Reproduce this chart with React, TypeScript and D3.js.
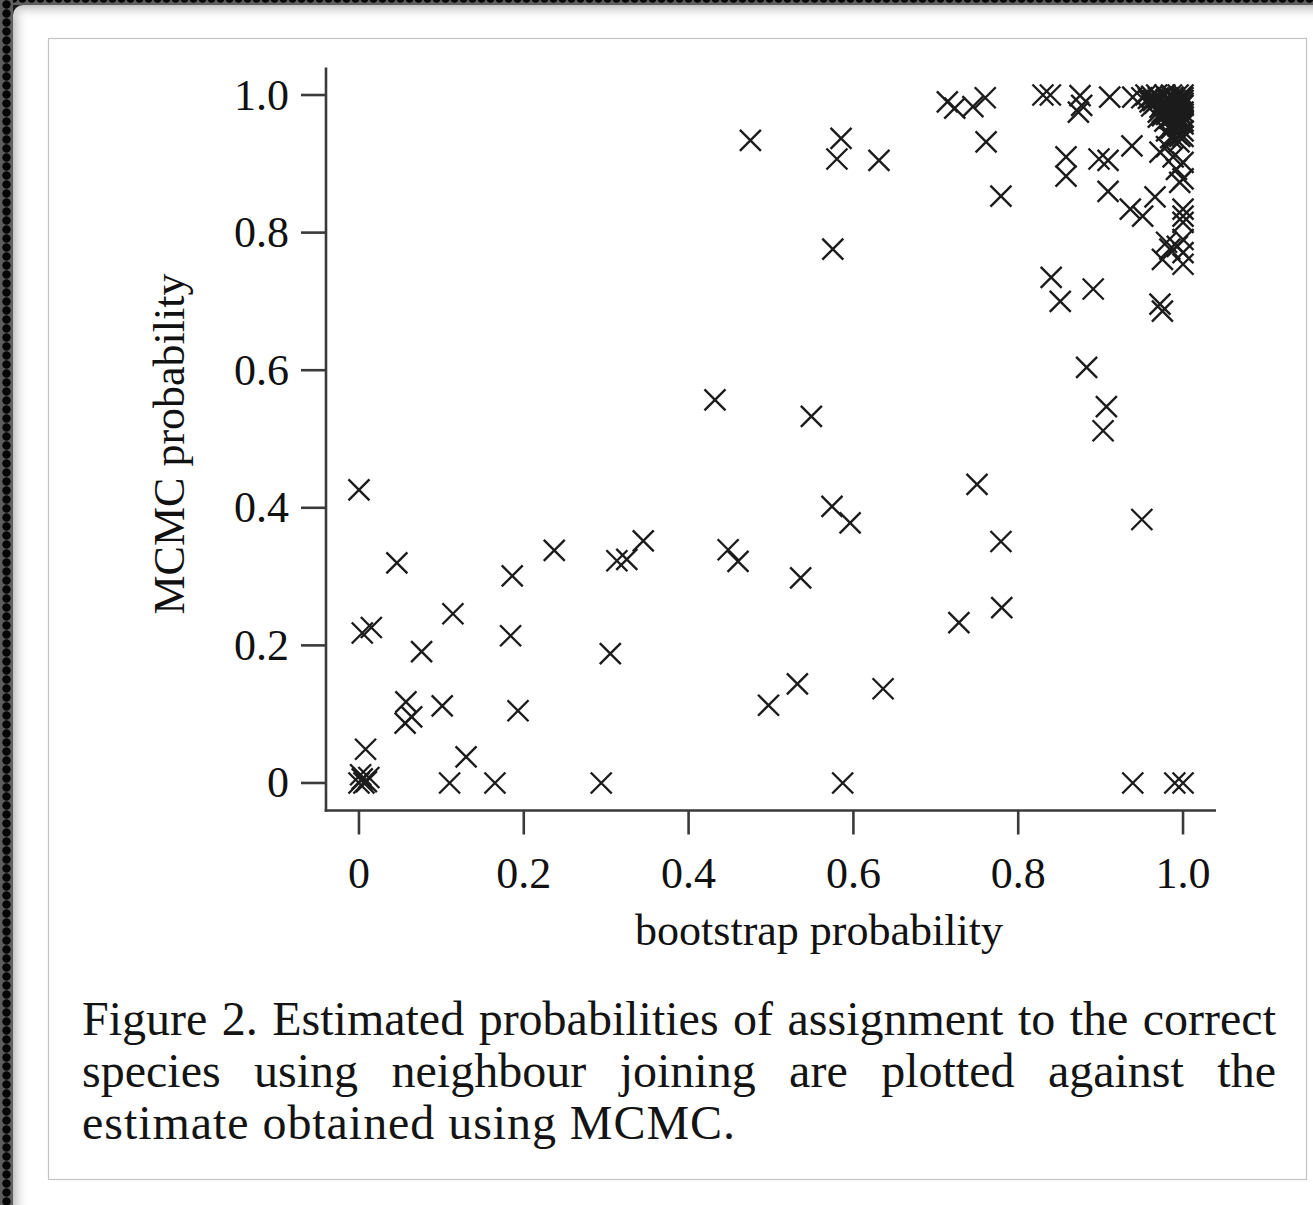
import React, { useMemo } from "react";
import * as d3 from "d3";

// Bootstrap (neighbour joining) probability for each assignment
const bootstrap = [
  0.0, 0.046, 0.004, 0.015, 0.076, 0.114, 0.057, 0.064, 0.056, 0.101,
  0.008, 0.0, 0.004, 0.009, 0.002, 0.012, 0.006, 0.11, 0.13, 0.165,
  0.186, 0.184, 0.193, 0.237, 0.294, 0.305, 0.313, 0.325, 0.345, 0.432,
  0.549, 0.75, 0.574, 0.596, 0.448, 0.46, 0.536, 0.779, 0.95, 0.728,
  0.78, 0.907, 0.903, 0.883, 0.497, 0.532, 0.636, 0.587, 0.939, 0.99,
  1.0,
  0.475, 0.585, 0.58, 0.631, 0.575, 0.714, 0.723, 0.745, 0.76, 0.761,
  0.779, 0.83, 0.839, 0.875, 0.873, 0.877, 0.911, 0.939, 0.858, 0.858,
  0.898, 0.909, 0.938, 0.909, 0.936, 0.951, 0.966, 0.84, 0.851, 0.891,
  0.972, 0.975,
  0.972, 0.996, 0.98, 0.988, 1.0, 0.992, 1.0, 0.996, 1.0, 1.0,
  1.0, 0.98, 0.993, 1.0, 0.975, 1.0, 0.984, 1.0,
  0.955, 0.962, 0.968, 0.972, 0.978, 0.982, 0.986, 0.99, 0.994, 0.998,
  1.0, 1.0, 1.0, 0.996, 0.99, 0.984, 0.978, 0.972, 0.966, 0.96,
  0.975, 0.982, 0.988, 0.994, 1.0, 1.0, 0.996, 0.99, 0.984, 0.978,
  0.97, 1.0, 0.994, 0.986, 1.0, 0.992, 0.98, 1.0, 0.995, 0.985,
  0.958, 0.964, 0.97, 0.976, 0.98, 0.988, 0.992, 0.996, 1.0, 1.0,
  0.997, 0.993, 0.987, 0.981, 0.975, 0.969, 0.98, 0.986, 0.992, 0.998,
  1.0, 0.995, 0.988, 0.975, 0.97, 0.95, 0.962,
];

// MCMC probability for the same assignments
const mcmc = [
  0.426, 0.32, 0.218, 0.226, 0.191, 0.246, 0.118, 0.096, 0.087, 0.112,
  0.049, 0.0, 0.006, 0.002, 0.012, 0.008, 0.0, 0.0, 0.038, 0.0,
  0.301, 0.214, 0.105, 0.338, 0.0, 0.188, 0.323, 0.325, 0.352, 0.557,
  0.533, 0.434, 0.402, 0.378, 0.339, 0.322, 0.298, 0.351, 0.383, 0.233,
  0.255, 0.547, 0.512, 0.604, 0.113, 0.144, 0.137, 0.0, 0.0, 0.0,
  0.0,
  0.934, 0.937, 0.907, 0.905, 0.776, 0.99, 0.981, 0.983, 0.996, 0.932,
  0.853, 1.0, 1.0, 0.999, 0.975, 0.985, 0.997, 0.997, 0.91, 0.882,
  0.907, 0.905, 0.926, 0.86, 0.834, 0.824, 0.852, 0.735, 0.7, 0.718,
  0.696, 0.686,
  0.917, 0.94, 0.925, 0.91, 0.902, 0.892, 0.878, 0.873, 0.834, 0.824,
  0.815, 0.786, 0.78, 0.771, 0.761, 0.754, 0.776, 0.79,
  1.0, 0.998, 1.0, 0.994, 1.0, 0.996, 1.0, 0.993, 1.0, 0.997,
  1.0, 0.992, 0.985, 0.988, 0.984, 0.988, 0.985, 0.982, 0.988, 0.99,
  0.975, 0.978, 0.974, 0.978, 0.975, 0.968, 0.965, 0.962, 0.966, 0.962,
  0.968, 0.958, 0.955, 0.952, 0.948, 0.944, 0.948, 0.94, 0.932, 0.938,
  0.995, 0.992, 0.996, 0.99, 0.994, 0.997, 0.99, 0.994, 0.996, 0.988,
  0.982, 0.978, 0.98, 0.982, 0.986, 0.992, 0.972, 0.968, 0.97, 0.972,
  0.962, 0.96, 0.958, 0.97, 0.975, 0.996, 0.984,
];

const tickValues = [0, 0.2, 0.4, 0.6, 0.8, 1.0];
const tickLabels = ["0", "0.2", "0.4", "0.6", "0.8", "1.0"];
const xTitle = "bootstrap probability";
const yTitle = "MCMC probability";
const captionLines = [
  "Figure 2. Estimated probabilities of assignment to the correct",
  "species using neighbour joining are plotted against the",
  "estimate obtained using MCMC.",
];

const W = 1313;
const H = 1205;
const SERIF = "'Liberation Serif', 'Times New Roman', serif";
const CAPTION_SIZE = 48;

function measure(text: string, font: string): number {
  const ctx = document.createElement("canvas").getContext("2d");
  if (!ctx) return text.length * 20;
  ctx.font = font;
  return ctx.measureText(text).width;
}

// Word positions spreading a line evenly between x0 and x1
function justify(line: string, x0: number, x1: number, font: string) {
  const words = line.split(" ");
  const widths = words.map((w) => measure(w, font));
  const total = d3.sum(widths);
  const gap = (x1 - x0 - total) / (words.length - 1);
  let x = x0;
  return words.map((w, i) => {
    const pos = { word: w, x };
    x += widths[i] + gap;
    return pos;
  });
}

export default function App() {
  const x = d3.scaleLinear().domain([-0.04, 1.04]).range([326, 1216]);
  const y = d3.scaleLinear().domain([-0.04, 1.04]).range([810.5, 67.5]);

  const points = d3.zip(bootstrap, mcmc);
  const arm = 10.5;

  const captionFont = `${CAPTION_SIZE}px 'Liberation Serif'`;
  const justified = useMemo(
    () => [
      justify(captionLines[0], 82, 1276, captionFont),
      justify(captionLines[1], 82, 1276, captionFont),
    ],
    [captionFont]
  );

  const axisColor = "#3a3a3a";
  const xAxisY = y(-0.04);
  const yAxisX = x(-0.04);

  return (
    <svg
      width={W}
      height={H}
      style={{ position: "absolute", left: 0, top: 0, background: "#fff" }}
      fontFamily={SERIF}
    >
      <defs>
        <pattern id="dotband" width="13" height="9" patternUnits="userSpaceOnUse">
          <rect width="13" height="9" fill="#5e5e5e" />
          <circle cx="6.5" cy="4.5" r="4.2" fill="#050505" />
        </pattern>
        <pattern id="dotbandTop" width="9" height="13" patternUnits="userSpaceOnUse" y="-8">
          <rect width="9" height="13" fill="#5e5e5e" />
          <circle cx="4.5" cy="6.5" r="4.2" fill="#050505" />
        </pattern>
        <linearGradient id="shadeLeft" x1="0" x2="1" y1="0" y2="0">
          <stop offset="0" stopColor="#bdbdbd" stopOpacity="0.9" />
          <stop offset="1" stopColor="#ffffff" stopOpacity="0" />
        </linearGradient>
        <linearGradient id="shadeTop" x1="0" x2="0" y1="0" y2="1">
          <stop offset="0" stopColor="#bdbdbd" stopOpacity="0.9" />
          <stop offset="1" stopColor="#ffffff" stopOpacity="0" />
        </linearGradient>
      </defs>

      {/* window frame */}
      <rect x={0} y={0} width={W} height={H} fill="#ffffff" />
      <rect x={13} y={5} width={16} height={H} fill="url(#shadeLeft)" />
      <rect x={13} y={5} width={W} height={16} fill="url(#shadeTop)" />
      <rect x={0} y={0} width={W} height={5} fill="url(#dotbandTop)" />
      <rect x={0} y={0} width={13} height={H} fill="url(#dotband)" />
      <path d="M13,5 h10 a10,10 0 0 0 -10,10 z" fill="#1a1a1a" />

      {/* figure panel */}
      <rect
        x={48.5}
        y={38.5}
        width={1258}
        height={1141}
        fill="#ffffff"
        stroke="#c4c4c4"
        strokeWidth={1.2}
      />

      {/* axes */}
      <g stroke={axisColor} strokeWidth={2.6} fill="none">
        <line x1={yAxisX} x2={yAxisX} y1={y(1.04)} y2={xAxisY + 1.3} />
        <line x1={yAxisX - 1.3} x2={x(1.04)} y1={xAxisY} y2={xAxisY} />
        {tickValues.map((v) => (
          <line key={`yt${v}`} x1={yAxisX - 25} x2={yAxisX} y1={y(v)} y2={y(v)} />
        ))}
        {tickValues.map((v) => (
          <line key={`xt${v}`} x1={x(v)} x2={x(v)} y1={xAxisY} y2={xAxisY + 24} />
        ))}
      </g>

      <g fontSize={44} fill="#111">
        {tickValues.map((v, i) => (
          <text
            key={`yl${v}`}
            x={289}
            y={y(v)}
            textAnchor="end"
            dominantBaseline="central"
          >
            {tickLabels[i]}
          </text>
        ))}
        {tickValues.map((v, i) => (
          <text key={`xl${v}`} x={x(v)} y={888} textAnchor="middle">
            {tickLabels[i]}
          </text>
        ))}
        <text x={819} y={945} textAnchor="middle">
          {xTitle}
        </text>
        <text
          transform={`translate(184,444) rotate(-90)`}
          textAnchor="middle"
        >
          {yTitle}
        </text>
      </g>

      {/* points drawn as crosses */}
      <g stroke="#1c1c1c" strokeWidth={2.4} strokeLinecap="butt" fill="none">
        {points.map(([bx, my], i) => {
          const cx = x(bx);
          const cy = y(my);
          return (
            <path
              key={i}
              d={`M${cx - arm},${cy - arm}L${cx + arm},${cy + arm}M${cx - arm},${cy + arm}L${cx + arm},${cy - arm}`}
            />
          );
        })}
      </g>

      {/* caption */}
      <g fontSize={CAPTION_SIZE} fill="#141414" fontFamily="'Liberation Serif', serif">
        {justified.map((words, li) =>
          words.map((w, wi) => (
            <text key={`c${li}-${wi}`} x={w.x} y={1035 + li * 52}>
              {w.word}
            </text>
          ))
        )}
        <text x={82} y={1139} textLength={653} lengthAdjust="spacing">
          {captionLines[2]}
        </text>
      </g>
    </svg>
  );
}
